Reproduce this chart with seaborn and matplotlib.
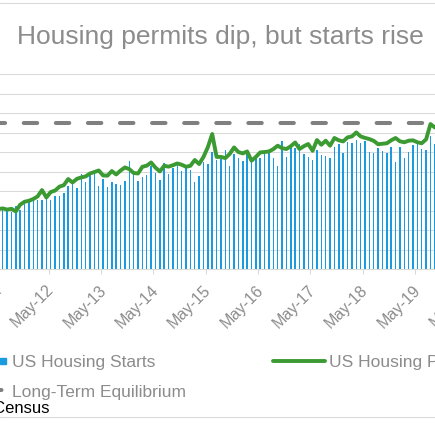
import numpy as np
import pandas as pd
import seaborn as sns
import matplotlib.pyplot as plt
from matplotlib.lines import Line2D
from matplotlib.legend_handler import HandlerLine2D
from matplotlib.transforms import ScaledTranslation

# monthly series, first value is May 2011 (thousands, SAAR)
first_month = "2011-05"
starts = [
    560, 615, 620, 585, 650, 610, 710, 694,
    720, 712, 704, 751, 712, 746, 745, 781, 847, 915, 833, 976,
    888, 962, 1005, 847, 923, 844, 891, 876, 863, 905, 1105, 1003,
    902, 948, 962, 1052, 985, 909, 1084, 972, 1039, 1074, 1007, 1042,
    1015, 888, 957, 1093, 1077, 1203, 1118, 1128, 1221, 1060, 1179, 1137,
    1113, 1188, 1104, 1144, 1135, 1189, 1211, 1137, 1060, 1310, 1149, 1250,
    1241, 1279, 1181, 1150, 1114, 1218, 1172, 1162, 1143, 1248, 1282, 1186,
    1300, 1290, 1323, 1288, 1309, 1196, 1190, 1245, 1206, 1195, 1247, 1093,
    1247, 1138, 1196, 1275, 1288, 1230, 1220, 1367, 1282, 1320,
]
permits = [
    615, 622, 610, 618, 591, 660, 690, 700,
    718, 745, 810, 734, 790, 805, 845, 860, 923, 888, 925, 940,
    950, 980, 995, 1011, 960, 958, 1005, 970, 1010, 1042, 1025, 985,
    980, 1049, 1060, 1093, 1040, 1001, 1059, 1050, 1065, 1083, 1070, 1049,
    1059, 1118, 1077, 1150, 1250, 1385, 1150, 1150, 1138, 1180, 1247, 1200,
    1186, 1206, 1111, 1150, 1196, 1200, 1206, 1230, 1265, 1240, 1231, 1260,
    1298, 1231, 1260, 1282, 1213, 1323, 1275, 1316, 1265, 1344, 1320, 1309,
    1350, 1360, 1401, 1360, 1345, 1333, 1315, 1280, 1285, 1290, 1320, 1344,
    1310, 1300, 1316, 1320, 1300, 1290, 1330, 1487, 1452, 1465,
]
equilibrium = 1500
tick_labels = ["May-11", "May-12", "May-13", "May-14", "May-15",
               "May-16", "May-17", "May-18", "May-19", "May-20"]

BLUE = "#1A9BE0"
GREEN = "#3C9A33"
DASH = "#808080"
GRID = "#D9D9D9"
TEXT = "#8C8C8C"

sns.set_theme(style="white")
plt.rcParams["font.family"] = ["Liberation Sans", "DejaVu Sans"]
plt.rcParams["lines.scale_dashes"] = False

months = pd.period_range(first_month, periods=len(starts), freq="M")
df = pd.DataFrame({"idx": np.arange(len(months)), "starts": starts, "permits": permits})

W = 435.0
fig = plt.figure(figsize=(4.351, 4.351), dpi=100)
# plot area is wider than the picture, it was cropped on both sides
ax = fig.add_axes([-0.25, (W - 269.1) / W, 1.5, 195 / W])

sns.barplot(data=df, x="idx", y="starts", native_scale=True, width=0.34,
            color=BLUE, saturation=1, errorbar=None, linewidth=0, ax=ax, zorder=2)
ax.axhline(equilibrium, color=DASH, lw=2.9, linestyle=(5.3, (9.7, 13.4)),
           dash_capstyle="round", zorder=3)
sns.lineplot(data=df, x="idx", y="permits", color=GREEN, lw=2.8, ax=ax, zorder=4,
             solid_joinstyle="round", solid_capstyle="round")

px_per_month = 4.364
ax.set_xlim(12 + (-0.25 * W - 50.7) / px_per_month, 12 + (1.25 * W - 50.7) / px_per_month)
ax.set_ylim(0, 2000)
ax.set_yticks(range(0, 2001, 200))
ax.yaxis.grid(True, color=GRID, lw=0.75)
ax.set_axisbelow(True)
ax.tick_params(axis="y", length=0, labelleft=False)
ax.set_xlabel("")
ax.set_ylabel("")

# ticks sit between the April and May bars
ax.set_xticks(np.arange(len(tick_labels)) * 12 - 0.5)
ax.set_xticklabels(tick_labels, rotation=45, ha="right", va="top",
                   rotation_mode="anchor", color=TEXT, fontsize=11.5)
ax.tick_params(axis="x", length=3.6, width=0.75, color=GRID, pad=5.8, bottom=True)
shift = ScaledTranslation(-2.5 / 100, 0, fig.dpi_scale_trans)
for lab in ax.get_xticklabels():
    lab.set_transform(lab.get_transform() + shift)

for s in ["left", "right", "top"]:
    ax.spines[s].set_visible(False)
ax.spines["bottom"].set_color(GRID)
ax.spines["bottom"].set_linewidth(0.75)

h_starts = Line2D([], [], marker="s", markersize=4.3, color=BLUE, linestyle="none")
h_eq = Line2D([], [], color=DASH, lw=2.9, linestyle=(7.9, (9.7, 13.4)), dash_capstyle="round")
h_perm = Line2D([], [], color=GREEN, lw=2.8, solid_capstyle="round")
fig.legend([h_starts, h_eq, h_perm],
           ["US Housing Starts", "Long-Term Equilibrium", "US Housing Permits"],
           ncol=2, loc="upper left", bbox_to_anchor=(-44 / W, 1 - 355 / W),
           frameon=False, fontsize=12.5, handlelength=3.0, handletextpad=0.23,
           columnspacing=5.03, borderpad=0, borderaxespad=0, labelspacing=0.82,
           labelcolor=TEXT, handler_map={h_starts: HandlerLine2D(numpoints=2)})

fig.text(220.5 / W, 1 - 43.5 / W, "Housing permits dip, but starts rise",
         ha="center", va="baseline", fontsize=19, color=TEXT)
fig.text(49.5 / W, 1 - 413 / W, "Source: Census", ha="right", va="baseline",
         fontsize=12, color="black")

# chart area border
for y in (3, 417):
    fig.add_artist(Line2D([0, 1], [1 - y / W] * 2, transform=fig.transFigure,
                          color=GRID, lw=0.75))

fig.savefig("out.png", dpi=100)
